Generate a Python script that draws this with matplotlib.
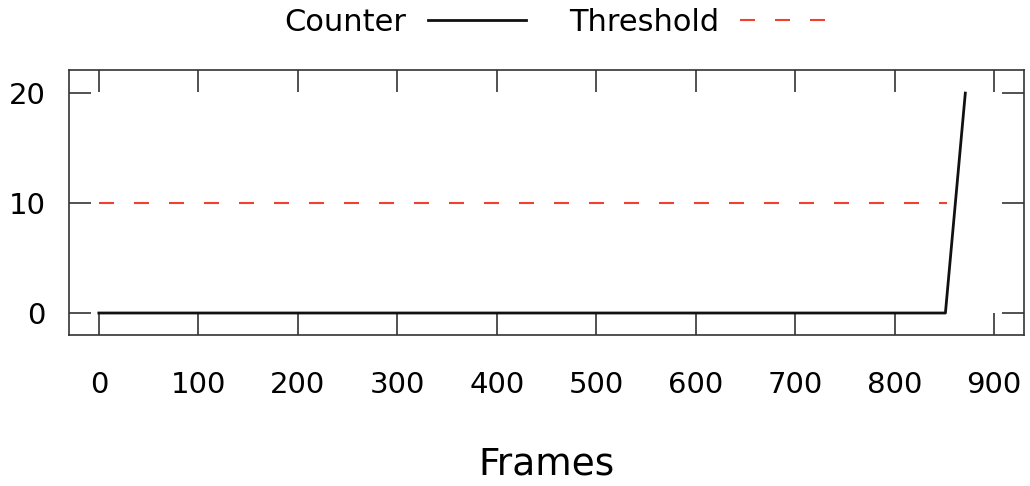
import numpy as np
import matplotlib
matplotlib.use('Agg')
from matplotlib import pyplot as plt

# counter over frames
frames = [0, 851, 871]
counter = [0, 0, 20]
# threshold line
thr_frames = [0, 853]
threshold = [10, 10]

xticks = [0, 100, 200, 300, 400, 500, 600, 700, 800, 900]
yticks = [0, 10, 20]

plt.rcParams['font.family'] = 'DejaVu Sans'

fig = plt.figure(figsize=(10.30, 4.86), dpi=100)
ax = fig.add_axes([69/1030, 1 - 335/486, (1024 - 69)/1030, (335 - 70)/486])

ax.plot(frames, counter, color='#111111', lw=2, label='Counter')
ax.plot(thr_frames, threshold, color='#f0412f', lw=1.5, dashes=(7.2, 9.6), label='Threshold')

ax.set_xlim(-30, 930)
ax.set_ylim(-2, 22.1)
ax.set_xticks(xticks)
ax.set_yticks(yticks)
ax.tick_params(direction='in', length=16, width=1.2, top=True, right=True,
               labelsize=21, color='#333333')
ax.tick_params(axis='x', pad=26)
ax.tick_params(axis='y', pad=17)
for s in ax.spines.values():
    s.set_linewidth(1.2)
    s.set_color('#333333')

ax.set_xlabel('Frames', fontsize=27, labelpad=34)

fig.legend(loc='upper center', bbox_to_anchor=(0.545, 1.04), ncol=2, frameon=False,
           markerfirst=False, fontsize=22, handlelength=3.2, columnspacing=1.4,
           handletextpad=0.7)

fig.savefig('out.png', dpi=100)
